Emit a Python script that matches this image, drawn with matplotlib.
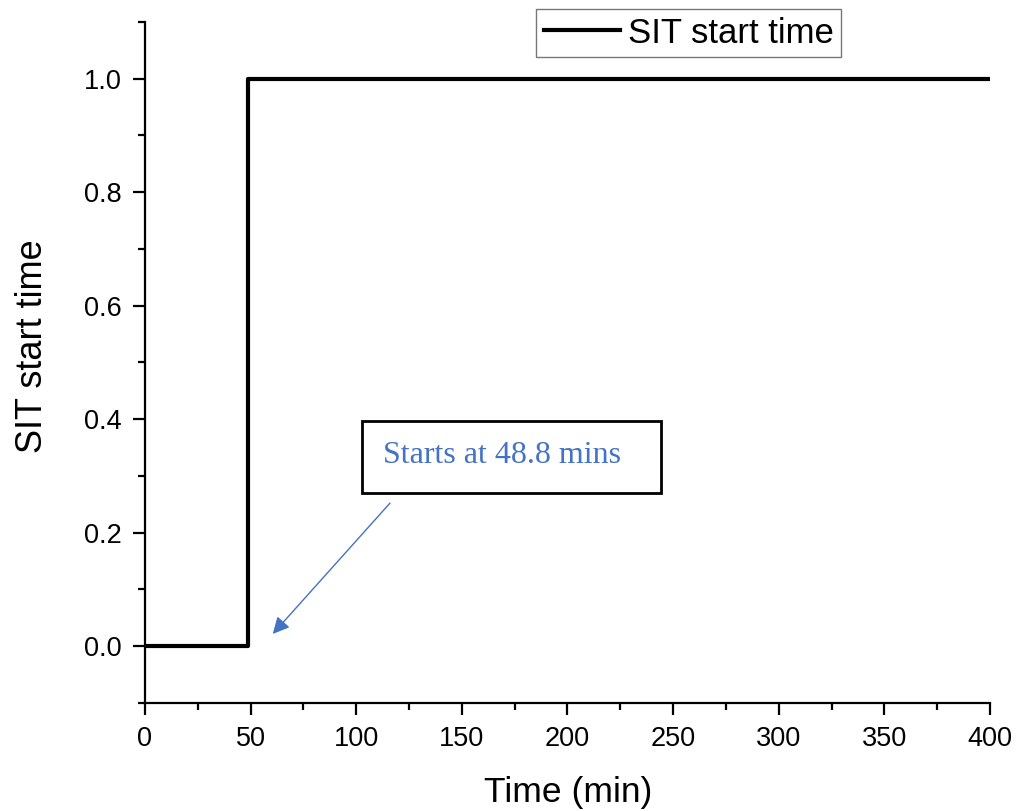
import matplotlib.pyplot as plt
from matplotlib.patches import Rectangle
from matplotlib.ticker import MultipleLocator

plt.rcParams['font.family'] = ['Liberation Sans', 'DejaVu Sans']

# Datos de la curva escalón
time_min = [0, 48.8, 400]
sit_start = [0, 1, 1]
start_time = 48.8

fig = plt.figure(figsize=(10.18, 8.11), dpi=100)
ax = fig.add_axes([0.1424, 0.1332, 0.8301, 0.8397])

ax.plot(time_min, sit_start, drawstyle='steps-post', color='black', lw=3, label='SIT start time')

ax.set_xlim(0, 400)
ax.set_ylim(-0.1, 1.1)
ax.xaxis.set_major_locator(MultipleLocator(50))
ax.xaxis.set_minor_locator(MultipleLocator(25))
ax.yaxis.set_major_locator(MultipleLocator(0.2))
ax.yaxis.set_minor_locator(MultipleLocator(0.1))
ax.yaxis.set_major_formatter(lambda v, p: f'{v:.1f}')

for s in ['top', 'right']:
    ax.spines[s].set_visible(False)
for s in ['left', 'bottom']:
    ax.spines[s].set_linewidth(1.6)

ax.tick_params(which='major', direction='out', length=8.5, width=1.6, labelsize=19.5, pad=8)
ax.tick_params(which='minor', direction='out', length=5, width=1.6)

ax.set_xlabel('Time (min)', fontsize=25.5)
ax.set_ylabel('SIT start time', fontsize=26)
ax.xaxis.set_label_coords(0.501, -0.107)
ax.yaxis.set_label_coords(-0.112, 0.524)

# Leyenda
leg = fig.legend(loc='upper left', bbox_to_anchor=(0.5265, 0.989), fontsize=25,
                 frameon=True, fancybox=False, edgecolor='#555555', handlelength=2.2,
                 handletextpad=0.22, borderpad=0.22, borderaxespad=0)
leg.get_frame().set_linewidth(1)

# Cuadro de anotación
fig.patches.append(Rectangle((0.3556, 0.3921), 0.2937, 0.0888, transform=fig.transFigure,
                             fill=False, edgecolor='black', lw=2))
fig.text(0.3762, 0.429, f'Starts at {start_time} mins', family='Liberation Serif',
         fontsize=23, color='#4472C4', va='baseline')

ax.annotate('', xy=(59.6, 0.018), xytext=(116.9, 0.256),
            arrowprops=dict(arrowstyle='-|>', color='#4472C4', lw=1, mutation_scale=25))

fig.savefig('out.png', dpi=100)
